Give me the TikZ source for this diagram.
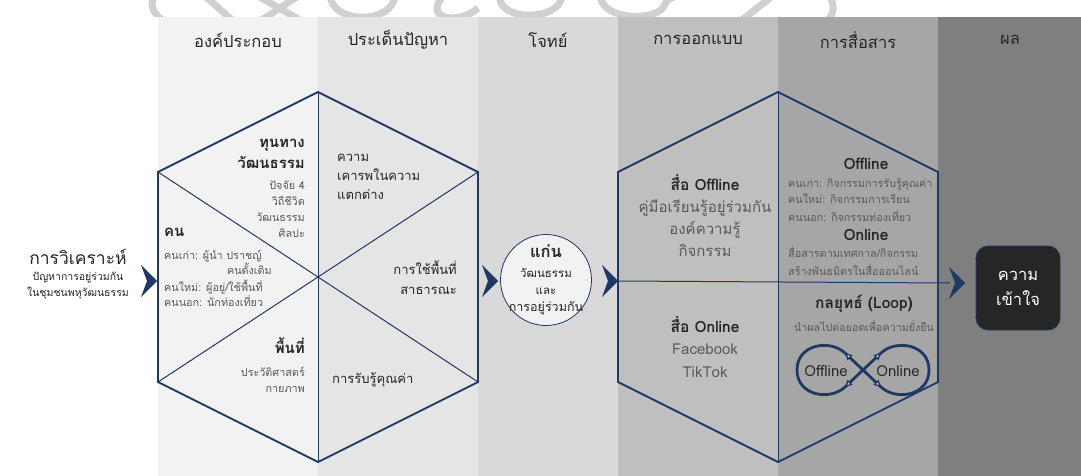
\documentclass[tikz,border=0pt]{standalone}
\usepackage{fontspec}
\setmainfont[Script=Thai]{Loma}
\usetikzlibrary{arrows.meta,calc}

\definecolor{navy}{HTML}{1F3864}
\definecolor{ink}{HTML}{262626}
\definecolor{soft}{HTML}{595959}
\definecolor{colA}{HTML}{F2F2F2}
\definecolor{colB}{HTML}{E5E5E5}
\definecolor{colC}{HTML}{D9D9D9}
\definecolor{colD}{HTML}{BFBFBF}
\definecolor{colE}{HTML}{A6A6A6}
\definecolor{colF}{HTML}{7F7F7F}
\definecolor{mark}{HTML}{D0D0D0}

\tikzset{
  hexedge/.style={draw=navy, line width=1.8pt, line join=miter},
  hexinner/.style={draw=navy, line width=1pt},
  txt/.style={inner sep=0pt, text=ink},
  hdr/.style={txt, font=\fontsize{16.5}{19}\selectfont},
  bigtxt/.style={txt, font=\bfseries\fontsize{15}{18}\selectfont},
  midtxt/.style={txt, font=\fontsize{13}{16}\selectfont},
  boldmid/.style={txt, font=\bfseries\fontsize{15.5}{18}\selectfont},
  smalltxt/.style={inner sep=0pt, text=soft, font=\fontsize{10.8}{13}\selectfont},
  graymid/.style={inner sep=0pt, text=soft, font=\fontsize{15}{18}\selectfont},
  loopline/.style={draw=navy, line width=2.8pt},
  looptip/.style={draw=navy, line width=1.4pt, -{Triangle[length=7pt,width=7pt,fill=white]}},
  chevron/.pic={\fill[navy] (-16,-16) -- (0,0) -- (-16,16) -- (-10,0) -- cycle;},
  wmark/.style={draw=mark, line width=7pt}
}

\begin{document}
\begin{tikzpicture}[x=1pt,y=-1pt]
\useasboundingbox (0,0) rectangle (1081,476);
\fill[white] (0,0) rectangle (1081,476);

% faint logo strokes above the columns
\begin{scope}
\clip (0,0) rectangle (1081,17);
\draw[wmark] (162,20) .. controls (150,10) and (150,2) .. (156,-6);
\draw[wmark] (205,-4) -- (232,20);
\draw[wmark] (258,-4) -- (300,20);
\draw[wmark] (298,-4) -- (262,20);
\draw[wmark] (330,-6) .. controls (330,25) and (395,25) .. (395,-6);
\draw[wmark] (445,-6) .. controls (420,20) and (460,25) .. (478,8);
\draw[wmark] (500,-6) .. controls (495,22) and (560,22) .. (562,-4);
\draw[wmark] (600,-6) .. controls (600,22) and (660,22) .. (665,4) .. controls (668,-4) and (680,-4) .. (690,-6);
\draw[wmark] (742,20) -- (775,-6);
\draw[wmark] (828,-6) .. controls (836,5) and (834,15) .. (826,22);
\end{scope}

% columns
\fill[colA] (158,17) rectangle (318,476);
\fill[colB] (318,17) rectangle (478,476);
\fill[colC] (478,17) rectangle (618,476);
\fill[colD] (618,17) rectangle (778,476);
\fill[colE] (778,17) rectangle (938,476);
\fill[colF] (938,17) rectangle (1081,476);

% column headings
\node[hdr] (hA) at (238,40) {องค์ประกอบ};
\node[hdr] (hB) at (398,40) {ประเด็นปัญหา};
\node[hdr] (hC) at (548,40) {โจทย์};
\node[hdr] (hD) at (698,40) {การออกแบบ};
\node[hdr] (hE) at (858,40) {การสื่อสาร};
\node[hdr] (hF) at (1010,40) {ผล};

% first hexagon: components and problems
\coordinate (h1t)  at (318,92);
\coordinate (h1tr) at (478,172);
\coordinate (h1br) at (478,382);
\coordinate (h1b)  at (318,462);
\coordinate (h1bl) at (158,382);
\coordinate (h1tl) at (158,172);
\draw[hexinner] (h1t) -- (h1b);
\draw[hexinner] (h1tl) -- (h1br);
\draw[hexinner] (h1tr) -- (h1bl);
\draw[hexedge] (h1t) -- (h1tr) -- (h1br) -- (h1b) -- (h1bl) -- (h1tl) -- cycle;

% second hexagon: design and communication
\coordinate (h2t)  at (778,92);
\coordinate (h2tr) at (938,172);
\coordinate (h2br) at (938,382);
\coordinate (h2b)  at (778,462);
\coordinate (h2bl) at (618,382);
\coordinate (h2tl) at (618,172);
\draw[hexinner] (h2t) -- (h2b);
\draw[hexedge] (h2t) -- (h2tr) -- (h2br) -- (h2b) -- (h2bl) -- (h2tl) -- cycle;

% analysis label on the left
\node[txt, font=\fontsize{17.5}{20}\selectfont, anchor=base] (anaA) at (78,264) {การวิเคราะห์};
\node[txt, font=\fontsize{10.5}{13}\selectfont, anchor=base] (anaB) at (78,280) {ปัญหาการอยู่ร่วมกัน};
\node[txt, font=\fontsize{10.5}{13}\selectfont, anchor=base] (anaC) at (78,296) {ในชุมชนพหุวัฒนธรรม};

% core circle
\node[circle, draw=navy, line width=0.8pt, fill=colA, minimum size=91pt, inner sep=0pt] (core) at (546,280) {};
\node[txt, font=\bfseries\fontsize{16.5}{19}\selectfont, anchor=base] (coreA) at (546,257) {แก่น};
\node[txt, font=\fontsize{11.5}{13}\selectfont, anchor=base] (coreB) at (546,277) {วัฒนธรรม};
\node[txt, font=\fontsize{11.5}{13}\selectfont, anchor=base] (coreC) at (546,294) {และ};
\node[txt, font=\fontsize{12.5}{14}\selectfont, anchor=base] (coreD) at (546,311) {การอยู่ร่วมกัน};

% result box
\node[rectangle, rounded corners=12pt, draw=navy, line width=0.8pt, fill=ink, minimum width=84pt, minimum height=84pt,
      text=white, align=center, font=\fontsize{16.5}{25}\selectfont] (result) at (1018,288) {ความ\\เข้าใจ};

% arrows between the stages
\coordinate (c1) at (157,281);
\coordinate (c2) at (498,281);
\coordinate (c3) at (618,281);
\coordinate (c4) at (965,283);
\coordinate (c4l) at (950,283);
\draw[hexinner] (c3) -- (c4l);
\pic at (c1) {chevron};
\pic at (c2) {chevron};
\pic at (c3) {chevron};
\pic at (c4) {chevron};

% texts in the first hexagon
\node[bigtxt, anchor=base east] (capA) at (305,147) {ทุนทาง};
\node[bigtxt, anchor=base east] (capB) at (305,168) {วัฒนธรรม};
\node[smalltxt, anchor=base east] (capC) at (305,189) {ปัจจัย 4};
\node[smalltxt, anchor=base east] (capD) at (305,205) {วิถีชีวิต};
\node[smalltxt, anchor=base east] (capE) at (305,221) {วัฒนธรรม};
\node[smalltxt, anchor=base east] (capF) at (305,237) {ศิลปะ};

\node[bigtxt, anchor=base west] (ppl) at (164,236) {คน};
\node[smalltxt, anchor=base west] (pplA) at (164,259) {คนเก่า: ผู้นำ ปราชญ์};
\node[smalltxt, anchor=base east] (pplB) at (272,274) {คนดั้งเดิม};
\node[smalltxt, anchor=base west] (pplC) at (164,291) {คนใหม่: ผู้อยู่/ใช้พื้นที่};
\node[smalltxt, anchor=base west] (pplD) at (164,306) {คนนอก: นักท่องเที่ยว};

\node[bigtxt, anchor=base east] (spc) at (305,353) {พื้นที่};
\node[smalltxt, anchor=base east] (spcA) at (305,376) {ประวัติศาสตร์};
\node[smalltxt, anchor=base east] (spcB) at (305,392) {กายภาพ};

\node[midtxt, anchor=base west] (resA) at (337,161) {ความ};
\node[midtxt, anchor=base west] (resB) at (337,180) {เคารพในความ};
\node[midtxt, anchor=base west] (resC) at (337,199) {แตกต่าง};

\node[midtxt, anchor=base east] (useA) at (457,274) {การใช้พื้นที่};
\node[midtxt, anchor=base east] (useB) at (457,294) {สาธารณะ};

\node[midtxt, anchor=base west] (val) at (332,383) {การรับรู้คุณค่า};

% texts in the second hexagon
\node[boldmid, anchor=base] (offA) at (705,190) {สื่อ Offline};
\node[graymid, anchor=base] (offB) at (705,212) {คู่มือเรียนรู้อยู่ร่วมกัน};
\node[graymid, anchor=base] (offC) at (705,234) {องค์ความรู้};
\node[graymid, anchor=base] (offD) at (705,256) {กิจกรรม};

\node[boldmid, anchor=base] (onA) at (705,332) {สื่อ Online};
\node[graymid, anchor=base] (onB) at (705,354) {Facebook};
\node[graymid, anchor=base] (onC) at (705,377) {TikTok};

\node[boldmid, anchor=base] (comA) at (866,169) {Offline};
\node[smalltxt, anchor=base west] (comB) at (788,187) {คนเก่า: กิจกรรมการรับรู้คุณค่า};
\node[smalltxt, anchor=base west] (comC) at (788,203) {คนใหม่: กิจกรรมการเรียน};
\node[smalltxt, anchor=base west] (comD) at (788,221) {คนนอก: กิจกรรมท่องเที่ยว};
\node[boldmid, anchor=base] (comE) at (866,240) {Online};
\node[smalltxt, anchor=base west] (comF) at (788,257) {สื่อสารตามเทศกาล/กิจกรรม};
\node[smalltxt, anchor=base west] (comG) at (788,275) {สร้างพันธมิตรในสื่อออนไลน์};

\node[boldmid, anchor=base] (strA) at (864,308) {กลยุทธ์ (Loop)};
\node[smalltxt, font=\fontsize{10.7}{12}\selectfont, anchor=base] (strB) at (864,331) {นำผลไปต่อยอดเพื่อความยั่งยืน};

% offline / online loop
\coordinate (lx) at (863,370);
\coordinate (lp1) at (845,353);
\coordinate (lp2) at (845,387);
\coordinate (lp3) at (881,353);
\coordinate (lp4) at (881,387);
\draw[loopline] (lp1) .. controls (830,339) and (797,344) .. (797,370) .. controls (797,396) and (830,401) .. (lp2);
\draw[loopline] (lp3) .. controls (896,339) and (929,344) .. (929,370) .. controls (929,396) and (896,401) .. (lp4);
\draw[loopline] (lp2) -- (lp3);
\draw[loopline] (lp4) -- (lp1);
\draw[looptip] (lx) -- (lp1);
\draw[looptip] (lx) -- (lp2);
\draw[looptip] (lx) -- (lp3);
\draw[looptip] (lx) -- (lp4);
\node[txt, font=\fontsize{15}{18}\selectfont, anchor=base] (lpOff) at (826,376) {Offline};
\node[txt, font=\fontsize{15}{18}\selectfont, anchor=base] (lpOn) at (898,376) {Online};
\end{tikzpicture}
\end{document}
